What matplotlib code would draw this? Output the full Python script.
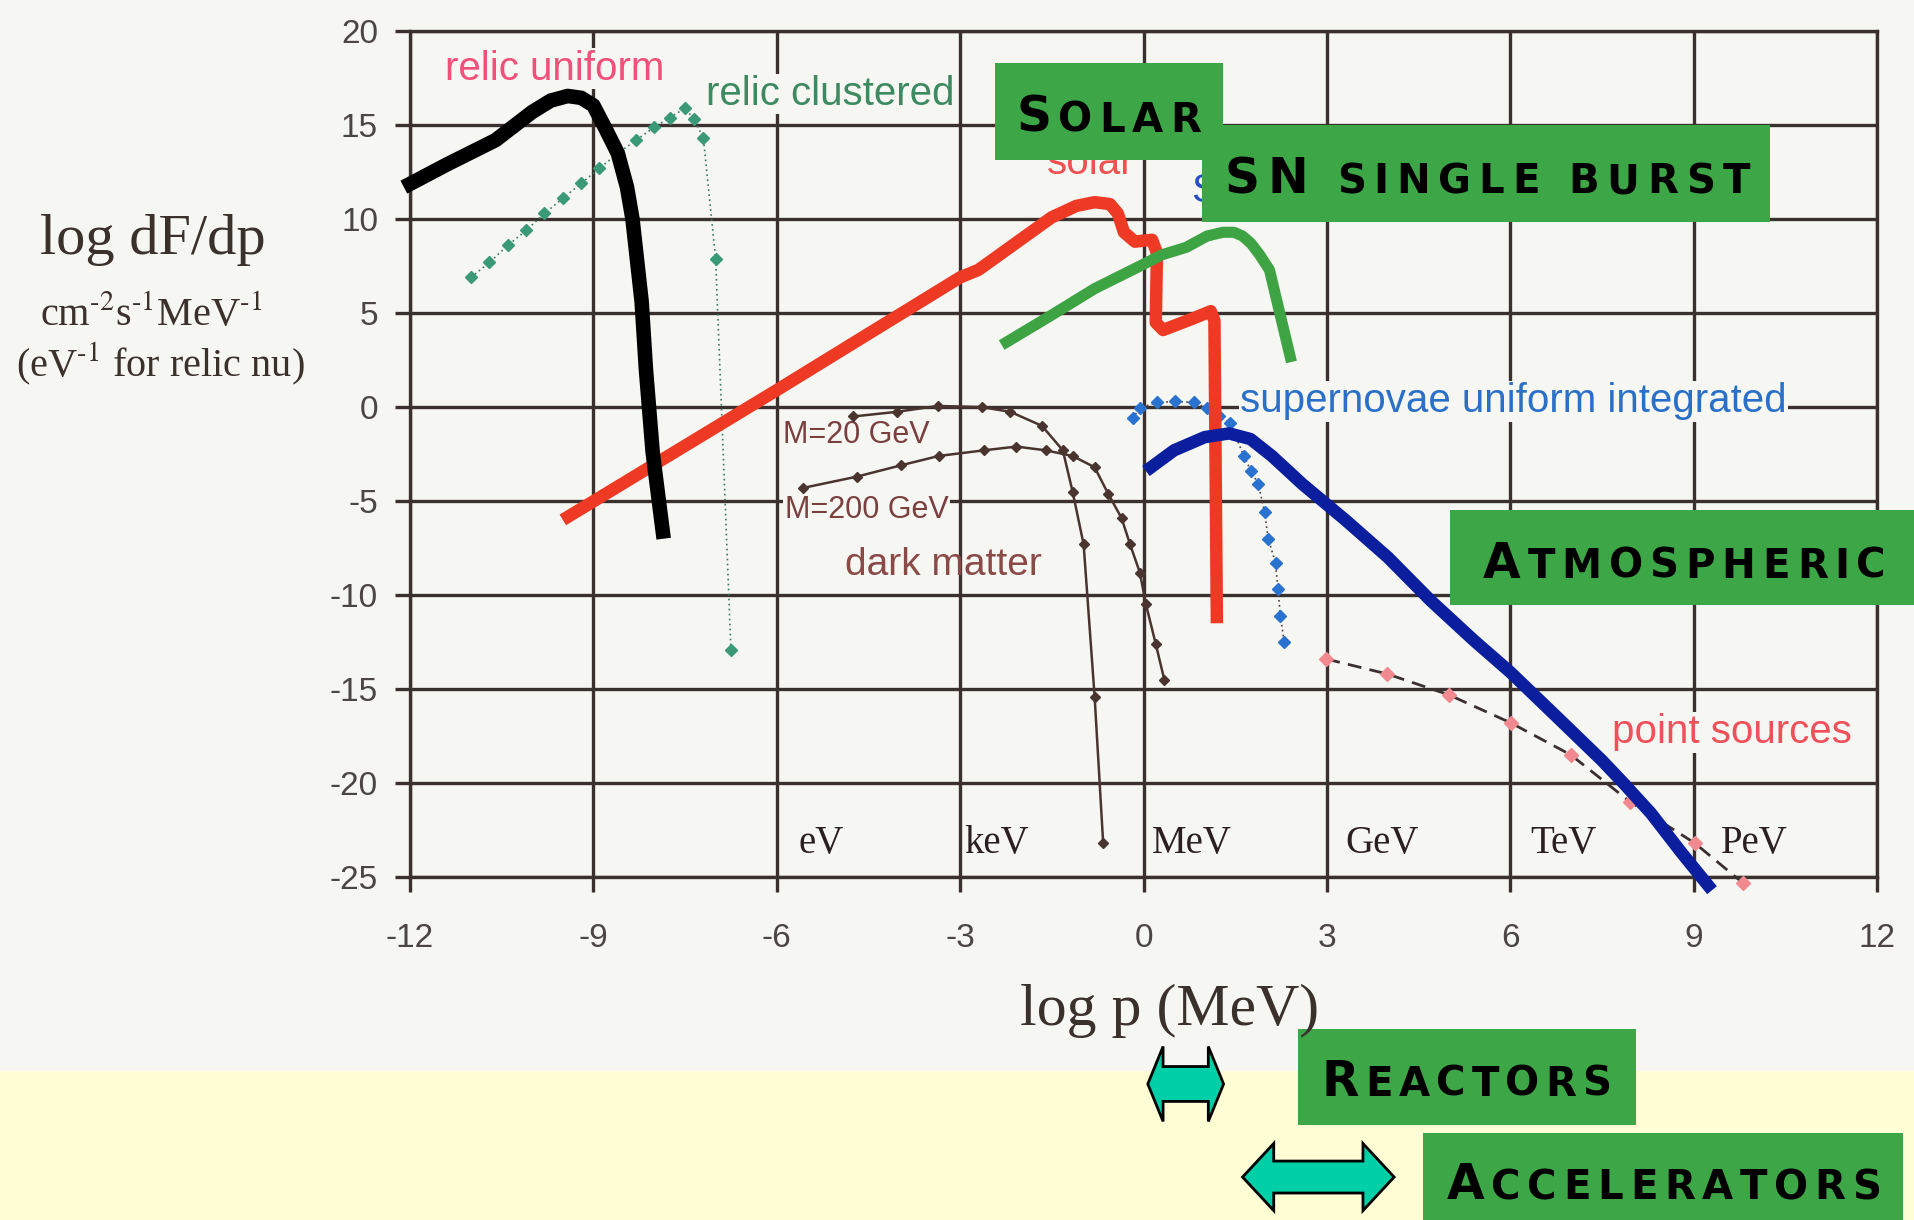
import matplotlib
matplotlib.use("Agg")
import matplotlib.pyplot as plt
from matplotlib import transforms as mtransforms
from matplotlib.patches import Rectangle, Polygon

# neutrino flux spectra: x = log10 p [MeV], y = log10 dF/dp
relic_uniform_x = [-12.1, -11.4, -10.6, -10.0, -9.7, -9.42, -9.2, -9.0, -8.8, -8.6, -8.45, -8.36, -8.21, -8.14, -8.03, -7.85]
relic_uniform_y = [11.7, 12.9, 14.2, 15.7, 16.3, 16.55, 16.45, 16.05, 14.8, 13.5, 11.7, 10.0, 5.6, 2.0, -2.4, -7.0]

relic_clustered_x = [-11.0, -10.7, -10.4, -10.1, -9.8, -9.5, -9.2, -8.9, -8.6, -8.3, -8.0, -7.75, -7.5, -7.35, -7.2, -7.0, -6.75]
relic_clustered_y = [6.9, 7.7, 8.6, 9.4, 10.3, 11.1, 11.9, 12.7, 13.5, 14.2, 14.9, 15.4, 15.9, 15.3, 14.3, 7.9, -12.9]

solar_x = [-9.5, -6.0, -3.0, -2.7, -1.5, -1.1, -0.8, -0.55, -0.42, -0.32, -0.14, 0.14, 0.22, 0.2, 0.32, 0.8, 1.1, 1.16, 1.2]
solar_y = [-6.0, 0.9, 6.9, 7.3, 10.1, 10.7, 10.9, 10.8, 10.3, 9.3, 8.8, 8.9, 8.2, 4.5, 4.1, 4.7, 5.1, 4.6, -11.5]

sn_burst_x = [-2.32, -1.5, -0.8, -0.06, 0.3, 0.7, 1.04, 1.3, 1.48, 1.62, 1.76, 1.9, 2.06, 2.42]
sn_burst_y = [3.3, 4.9, 6.3, 7.5, 8.1, 8.5, 9.1, 9.3, 9.3, 9.1, 8.7, 8.1, 7.3, 2.4]

sn_uniform_x = [-0.18, -0.06, 0.22, 0.52, 0.82, 1.04, 1.24, 1.42, 1.64, 1.76, 1.88, 1.98, 2.04, 2.16, 2.2, 2.24, 2.3]
sn_uniform_y = [-0.6, -0.05, 0.25, 0.3, 0.25, -0.05, -0.5, -0.85, -2.6, -3.4, -4.1, -5.6, -7.0, -8.3, -9.7, -11.1, -12.5]

atmos_x = [0.04, 0.5, 1.0, 1.4, 1.75, 2.1, 2.6, 3.3, 4.0, 4.7, 5.4, 6.0, 6.8, 7.5, 7.85, 8.3, 8.8, 9.3]
atmos_y = [-3.4, -2.3, -1.6, -1.4, -1.7, -2.6, -4.1, -6.0, -8.0, -10.3, -12.4, -14.1, -16.6, -18.8, -20.0, -21.6, -23.7, -25.7]

dm20_x = [-4.75, -4.03, -3.37, -2.65, -2.18, -1.66, -1.32, -1.16, -0.98, -0.8, -0.66]
dm20_y = [-0.5, -0.25, 0.06, 0.0, -0.25, -1.0, -2.3, -4.5, -7.3, -15.4, -23.2]

dm200_x = [-5.57, -4.69, -3.97, -3.35, -2.61, -2.08, -1.6, -1.16, -0.8, -0.58, -0.36, -0.22, -0.06, 0.04, 0.2, 0.34]
dm200_y = [-4.3, -3.7, -3.1, -2.6, -2.3, -2.1, -2.3, -2.6, -3.2, -4.6, -5.9, -7.3, -8.8, -10.5, -12.6, -14.5]

point_x = [2.99, 3.99, 4.99, 6.01, 6.99, 7.96, 9.02, 9.8]
point_y = [-13.4, -14.2, -15.3, -16.8, -18.5, -21.0, -23.2, -25.3]

# log p ranges reached by man-made sources
reactor_range = [0.07, 1.31]
accelerator_range = [1.62, 4.10]

unit_names = ['eV', 'keV', 'MeV', 'GeV', 'TeV', 'PeV']
unit_x = [-5.64, -2.93, 0.14, 3.3, 6.33, 9.45]

BG = '#f6f6f2'
CREAM = '#fefdd4'
GRID = '#3a302d'
BOX = '#3da646'
TEAL = '#00cfa8'

plt.rcParams['mathtext.fontset'] = 'stix'
plt.rcParams['axes.unicode_minus'] = False
SANS = 'Liberation Sans'
SERIF = 'Liberation Serif'

W, H = 1914, 1220
fig = plt.figure(figsize=(W / 100, H / 100), dpi=100)
fig.patch.set_facecolor(BG)
fig.add_artist(Rectangle((0, 0), 1, 0.122, transform=fig.transFigure,
                         facecolor=CREAM, edgecolor='none', zorder=-1))

ax = fig.add_axes([0.2142, 0.2811, 0.7665, 0.6934])
ax.set_facecolor(BG)
ax.set_xlim(-12, 12)
ax.set_ylim(-25, 20)
ax.set_xticks(range(-12, 13, 3))
ax.set_yticks(range(-25, 21, 5))
ax.grid(True, color=GRID, lw=2.4)
ax.set_axisbelow(True)
for s in ax.spines.values():
    s.set_color(GRID)
    s.set_linewidth(2.4)
ax.tick_params(direction='out', length=11, width=2.4, color=GRID,
               labelsize=24, labelcolor='#4a4646')
ax.tick_params(axis='x', pad=22)
ax.tick_params(axis='y', pad=12)
for lab in ax.get_xticklabels() + ax.get_yticklabels():
    lab.set_family(SANS)

# original scanned curves
ax.plot(relic_clustered_x, relic_clustered_y, color='#3a7a60', lw=1.2, ls=(0, (1, 2)),
        marker='D', ms=6, mfc='#3a9a78', mec='#3a9a78', zorder=3)
ax.plot(sn_uniform_x, sn_uniform_y, color='#4a4040', lw=1.2, ls=(0, (1, 2)),
        marker='D', ms=6, mfc='#2a72d0', mec='#2a72d0', zorder=3)
ax.plot(dm20_x, dm20_y, color='#4a3430', lw=1.8, marker='D', ms=5, zorder=3)
ax.plot(dm200_x, dm200_y, color='#4a3430', lw=1.8, marker='D', ms=5, zorder=3)
ax.plot(point_x, point_y, color='#3a3030', lw=2, ls=(0, (5, 3)), marker='D', ms=7,
        mfc='#f08a90', mec='#f08a90', clip_on=False, zorder=3)

# highlighted sources
ax.plot(solar_x, solar_y, color='#ee3a24', lw=9, solid_joinstyle='round',
        solid_capstyle='butt', zorder=5)
ax.plot(sn_burst_x, sn_burst_y, color='#3ea343', lw=8, solid_joinstyle='round',
        solid_capstyle='butt', zorder=5)
ax.plot(atmos_x, atmos_y, color='#0a1e9e', lw=9, solid_joinstyle='round',
        solid_capstyle='butt', clip_on=False, zorder=5)
ax.plot(relic_uniform_x, relic_uniform_y, color='black', lw=10.5, solid_joinstyle='round',
        solid_capstyle='butt', clip_on=False, zorder=6)

box_bg = dict(facecolor=BG, edgecolor='none', pad=1)
ax.text(-11.43, 18.0, 'relic uniform', color='#f0507a', fontsize=29, family=SANS,
        va='center', bbox=box_bg, zorder=2)
ax.text(-7.15, 16.65, 'relic clustered', color='#3d8a62', fontsize=29, family=SANS,
        va='center', bbox=box_bg, zorder=2)
ax.text(1.58, 0.3, 'supernovae uniform integrated', color='#2a70c8', fontsize=29,
        family=SANS, va='center', bbox=box_bg, zorder=2)
ax.text(7.67, -17.3, 'point sources', color='#f0505a', fontsize=29, family=SANS,
        va='center', bbox=box_bg, zorder=2)
ax.text(-5.9, -1.5, 'M=20 GeV', color='#7a4040', fontsize=22, family=SANS,
        va='center', bbox=box_bg, zorder=2)
ax.text(-5.87, -5.5, 'M=200 GeV', color='#7a4040', fontsize=22, family=SANS,
        va='center', bbox=box_bg, zorder=2)
ax.text(-4.89, -8.4, 'dark matter', color='#8a4a48', fontsize=28, family=SANS,
        va='center', zorder=2)
ax.text(-0.86, 12.4, 'solar', color='#f05050', fontsize=29, family=SANS,
        ha='center', va='baseline', zorder=2)
ax.text(0.78, 10.9, 'S', color='#2a50c0', fontsize=29, family=SANS,
        va='baseline', zorder=2)

for name, x in zip(unit_names, unit_x):
    ax.text(x, -23.2, name, fontsize=28, family=SERIF, color='#2a2020',
            va='center', zorder=2)

# axis titles
fig.text(0.0799, 0.8033, 'log dF/dp', fontsize=42, family=SERIF, color='#3a302c',
         ha='center', va='center')
fig.text(0.0789, 0.742, r'cm$^{\text{-}2}$s$^{\text{-}1}$MeV$^{\text{-}1}$', fontsize=29,
         family=SERIF, color='#3a302c', ha='center', va='center')
fig.text(0.0836, 0.7016, r'(eV$^{\text{-}1}$ for relic nu)', fontsize=29, family=SERIF,
         color='#3a302c', ha='center', va='center')
fig.text(0.6108, 0.1713, 'log p (MeV)', fontsize=43, family=SERIF, color='#3a302c',
         ha='center', va='center')


def px_box(x0, y0, x1, y1):
    fig.add_artist(Rectangle((x0 / W, 1 - y1 / H), (x1 - x0) / W, (y1 - y0) / H,
                             transform=fig.transFigure, facecolor=BOX,
                             edgecolor='none', zorder=2))


def caps_label(x0, x1, baseline, parts):
    # letters are placed one by one, spread evenly between x0 and x1 (pixels)
    renderer = fig.canvas.get_renderer()
    glyphs = []
    for text, size in parts:
        for ch in text:
            if ch == ' ':
                glyphs.append((None, size * 0.45))
                continue
            t = fig.text(0, 0, ch, transform=mtransforms.IdentityTransform(),
                         fontsize=size, fontweight='bold', family='DejaVu Sans',
                         color='black', va='baseline', zorder=5)
            glyphs.append((t, t.get_window_extent(renderer).width))
    gap = (x1 - x0 - sum(w for _, w in glyphs)) / (len(glyphs) - 1)
    x = x0
    for t, w in glyphs:
        if t is not None:
            t.set_position((x, H - baseline))
        x += w + gap


BIG, SMALL = 35, 29
px_box(995, 63, 1223, 160)
caps_label(1016, 1201, 132, [('S', BIG), ('OLAR', SMALL)])
px_box(1202, 125, 1770, 222)
caps_label(1225, 1750, 193, [('SN', BIG), (' SINGLE BURST', SMALL)])
px_box(1450, 510, 1914, 605)
caps_label(1483, 1886, 578, [('A', BIG), ('TMOSPHERIC', SMALL)])
px_box(1298, 1029, 1636, 1125)
caps_label(1322, 1611, 1096, [('R', BIG), ('EACTORS', SMALL)])
px_box(1423, 1133, 1903, 1220)
caps_label(1447, 1881, 1199, [('A', BIG), ('CCELERATORS', SMALL)])

# double arrows spanning each source's log p range
arrow_tr = mtransforms.blended_transform_factory(ax.transData, fig.transFigure)


def range_arrow(xr, yc, head, hh, sh):
    x0, x1 = xr
    pts = [(x0, yc), (x0 + head, yc + hh), (x0 + head, yc + sh), (x1 - head, yc + sh),
           (x1 - head, yc + hh), (x1, yc), (x1 - head, yc - hh), (x1 - head, yc - sh),
           (x0 + head, yc - sh), (x0 + head, yc - hh)]
    fig.add_artist(Polygon(pts, closed=True, transform=arrow_tr, facecolor=TEAL,
                           edgecolor='black', lw=2, zorder=2))


range_arrow(reactor_range, 0.1115, 0.25, 0.0307, 0.0143)
range_arrow(accelerator_range, 0.0352, 0.51, 0.0275, 0.0131)

fig.savefig('out.png', dpi=100, facecolor=fig.get_facecolor())
